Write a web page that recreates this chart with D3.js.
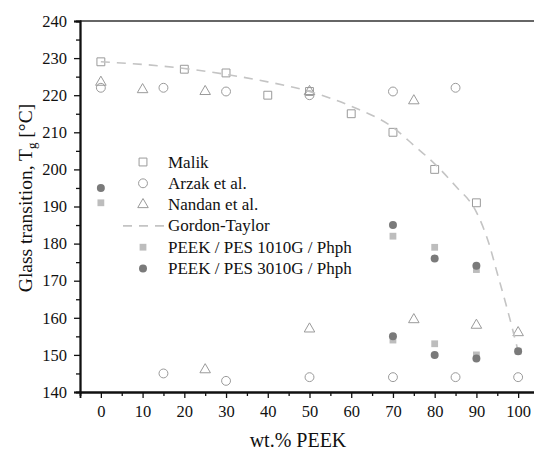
<!DOCTYPE html>
<html>
<head>
<meta charset="utf-8">
<script src="https://cdn.jsdelivr.net/npm/d3@7"></script>
<style>
  body { margin: 0; background: #fff; }
</style>
</head>
<body>
<div id="chart"></div>
<script>
var width = 534,
    height = 452;
var serif = "'Times New Roman', Times, 'Liberation Serif', Tinos, 'Noto Serif', 'DejaVu Serif', serif";

// data
var malik = [[0, 229], [20, 227], [30, 226], [40, 220], [50, 221], [60, 215], [70, 210], [80, 200], [90, 191]];
var arzak = [[0, 222], [15, 222], [30, 221], [50, 220], [70, 221], [85, 222],
             [15, 145], [30, 143], [50, 144], [70, 144], [85, 144], [100, 144]];
var nandan = [[0, 223.5], [10, 221.5], [25, 221], [50, 221], [75, 218.5],
              [25, 146], [50, 157], [75, 159.5], [90, 158], [100, 156]];
var gordonTaylor = [[0, 229], [10, 228.3], [20, 227.2], [30, 225.6], [40, 223.6], [50, 221],
                    [60, 217], [70, 211.3], [75, 206.5], [80, 201.5], [85, 195.5], [90, 188.5],
                    [93, 180], [95, 172], [97, 164], [100, 151]];
var pes1010 = [[0, 191], [70, 182], [80, 179], [90, 173], [70, 154], [80, 153], [90, 150], [100, 151]];
var pes3010 = [[0, 195], [70, 185], [80, 176], [90, 174], [70, 155], [80, 150], [90, 149], [100, 151]];

var xTicks = [0, 10, 20, 30, 40, 50, 60, 70, 80, 90, 100];
var yTicks = [140, 150, 160, 170, 180, 190, 200, 210, 220, 230, 240];
var legendNames = ["Malik", "Arzak et al.", "Nandan et al.", "Gordon-Taylor",
                   "PEEK / PES 1010G / Phph", "PEEK / PES 3010G / Phph"];

var svg = d3.select("#chart").append("svg")
    .attr("width", width)
    .attr("height", height)
    .style("font-family", serif);

var xScale = d3.scaleLinear().domain([-5, 105]).range([80, 539]);
var yScale = d3.scaleLinear().domain([140, 240]).range([392, 21]);

var openColor = "#9a9a9a",
    lightFill = "#bdbdbd",
    darkFill = "#7a7a7a",
    dashColor = "#c4c4c4";

// top frame line
svg.append("line")
    .attr("x1", xScale(-5)).attr("x2", width)
    .attr("y1", yScale(240)).attr("y2", yScale(240))
    .attr("stroke", "#333").attr("stroke-width", 1.6);

// axes
var xAxis = d3.axisBottom(xScale).tickValues(xTicks).tickSize(6).tickPadding(7).tickFormat(d3.format("d"));
var xMinor = d3.axisBottom(xScale).tickValues(d3.range(5, 105, 10)).tickSize(4).tickFormat("");
var yAxis = d3.axisLeft(yScale).tickValues(yTicks).tickSize(6).tickPadding(7).tickFormat(d3.format("d"));
var yMinor = d3.axisLeft(yScale).tickValues(d3.range(145, 240, 10)).tickSize(4).tickFormat("");

function styleAxis(g) {
    g.attr("font-family", null).attr("font-size", null);
    g.select(".domain").attr("stroke", "#111").attr("stroke-width", 1.8);
    g.selectAll(".tick line").attr("stroke", "#111").attr("stroke-width", 1.3);
    g.selectAll(".tick text").attr("fill", "#111")
        .style("font-family", serif).style("font-size", "16.5px");
}

svg.append("g").attr("transform", "translate(0," + yScale(140) + ")").call(xMinor).call(styleAxis);
svg.append("g").attr("transform", "translate(0," + yScale(140) + ")").call(xAxis).call(styleAxis);
svg.append("g").attr("transform", "translate(" + xScale(-5) + ",0)").call(yMinor).call(styleAxis);
svg.append("g").attr("transform", "translate(" + xScale(-5) + ",0)").call(yAxis).call(styleAxis);

// axis titles
svg.append("text")
    .attr("x", 298).attr("y", 447)
    .attr("text-anchor", "middle")
    .style("font-family", serif)
    .style("font-size", "20px").attr("fill", "#111")
    .text("wt.% PEEK");

var yTitle = svg.append("text")
    .attr("transform", "translate(32,198) rotate(-90)")
    .attr("text-anchor", "middle")
    .style("font-family", serif)
    .style("font-size", "19.5px").attr("fill", "#111");
yTitle.append("tspan").text("Glass transition, T");
yTitle.append("tspan").attr("dy", 4).style("font-size", "13px").text("g");
yTitle.append("tspan").attr("dy", -4).text(" [°C]");

// symbols
var sqOpen = d3.symbol().type(d3.symbolSquare).size(62);
var circOpen = d3.symbol().type(d3.symbolCircle).size(62);
var triOpen = d3.symbol().type(d3.symbolTriangle).size(48);
var sqFill = d3.symbol().type(d3.symbolSquare).size(46);
var circFill = d3.symbol().type(d3.symbolCircle).size(50);

function drawPoints(data, sym, fill, stroke, cls) {
    svg.append("g").selectAll("path." + cls)
        .data(data)
        .enter().append("path")
        .attr("class", cls)
        .attr("d", sym)
        .attr("transform", function(d) { return "translate(" + xScale(d[0]) + "," + yScale(d[1]) + ")"; })
        .attr("fill", fill)
        .attr("stroke", stroke)
        .attr("stroke-width", stroke === "none" ? 0 : 1);
}

drawPoints(malik, sqOpen, "none", openColor, "malik");
drawPoints(arzak, circOpen, "none", openColor, "arzak");
drawPoints(nandan, triOpen, "none", openColor, "nandan");

var line = d3.line()
    .x(function(d) { return xScale(d[0]); })
    .y(function(d) { return yScale(d[1]); })
    .curve(d3.curveMonotoneX);

svg.append("path")
    .datum(gordonTaylor)
    .attr("d", line)
    .attr("fill", "none")
    .attr("stroke", dashColor)
    .attr("stroke-width", 1.6)
    .attr("stroke-dasharray", "9,7");

drawPoints(pes1010, sqFill, lightFill, "none", "pes1010");
drawPoints(pes3010, circFill, darkFill, "none", "pes3010");

// legend
var legend = svg.append("g");
var lx = 143, ly = 162, lstep = 21.3;
var legendSyms = [
    {sym: sqOpen, fill: "none", stroke: openColor},
    {sym: circOpen, fill: "none", stroke: openColor},
    {sym: triOpen, fill: "none", stroke: openColor},
    null,
    {sym: sqFill, fill: lightFill, stroke: "none"},
    {sym: circFill, fill: darkFill, stroke: "none"}
];

legendNames.forEach(function(name, i) {
    var yy = ly + i * lstep;
    var s = legendSyms[i];
    if (s) {
        legend.append("path")
            .attr("d", s.sym)
            .attr("transform", "translate(" + lx + "," + yy + ")")
            .attr("fill", s.fill)
            .attr("stroke", s.stroke)
            .attr("stroke-width", s.stroke === "none" ? 0 : 1);
    } else {
        legend.append("line")
            .attr("x1", lx - 20).attr("x2", lx + 24)
            .attr("y1", yy).attr("y2", yy)
            .attr("stroke", dashColor)
            .attr("stroke-width", 1.6)
            .attr("stroke-dasharray", "9,7");
    }
    legend.append("text")
        .attr("x", lx + 25).attr("y", yy + 5.5)
        .style("font-family", serif)
        .style("font-size", "17px").attr("fill", "#111")
        .text(name);
});
</script>
</body>
</html>
